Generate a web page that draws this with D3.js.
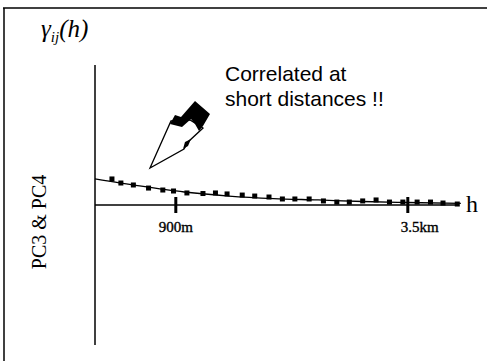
<!DOCTYPE html>
<html>
<head>
<meta charset="utf-8">
<script src="https://cdn.jsdelivr.net/npm/d3@7"></script>
<style>
  body { margin: 0; background: #fff; }
  svg { display: block; }
  .tick text { font-family: "Liberation Serif", "DejaVu Serif", serif; font-size: 15px; fill: #000; stroke: #000; stroke-width: 0.35px; }
</style>
</head>
<body>
<div id="chart"></div>
<script>
// cross-variogram PC3 & PC4, lag distance in metres
var lagPoints = [190, 290, 430, 600, 760, 880, 1030, 1210, 1350, 1480, 1650, 1790, 1950,
                 2100, 2240, 2400, 2560, 2710, 2850, 3000, 3150, 3300, 3450, 3610, 3760, 3900, 4060];
var gammaPoints = [0.186, 0.157, 0.143, 0.121, 0.107, 0.100, 0.086, 0.082, 0.086, 0.079, 0.071, 0.064, 0.057,
                   0.043, 0.043, 0.043, 0.029, 0.021, 0.021, 0.029, 0.036, 0.021, 0.021, 0.021, 0.021, 0.014, 0.007];

// fitted model
var fitLag = [0, 500, 1000, 1500, 2000, 2500, 3000, 3500, 4100];
var fitGamma = [0.186, 0.136, 0.093, 0.064, 0.046, 0.036, 0.025, 0.018, 0.011];

var tickValues = [900, 3500];
var tickLabels = ["900m", "3.5km"];

var width = 487, height = 361;

var svg = d3.select("#chart")
    .append("svg")
    .attr("width", width)
    .attr("height", height);

var x = d3.scaleLinear()
    .domain([0, 2600])
    .range([95, 327]);

var y = d3.scaleLinear()
    .domain([-1, 1])
    .range([345, 65]);

// frame (top and left only)
svg.append("line")
    .attr("x1", 3).attr("x2", 487).attr("y1", 8).attr("y2", 8)
    .attr("stroke", "#000").attr("stroke-width", 1.5);
svg.append("line")
    .attr("x1", 4).attr("x2", 4).attr("y1", 8).attr("y2", 361)
    .attr("stroke", "#000").attr("stroke-width", 1.5);

// vertical axis
svg.append("line")
    .attr("x1", x(0)).attr("x2", x(0))
    .attr("y1", y(1)).attr("y2", y(-1))
    .attr("stroke", "#000").attr("stroke-width", 1.5);

// horizontal axis
var xAxis = d3.axisBottom(x)
    .tickValues(tickValues)
    .tickFormat(function(d, i) { return tickLabels[i]; })
    .tickSize(8)
    .tickPadding(8);

var gx = svg.append("g")
    .attr("transform", "translate(0," + y(0) + ")")
    .call(xAxis);

gx.select(".domain").remove();
gx.append("line")
    .attr("x1", x(0)).attr("x2", x(4080))
    .attr("stroke", "#000").attr("stroke-width", 1.3);
gx.selectAll(".tick line")
    .attr("y1", -8)
    .attr("stroke-width", 3);
gx.selectAll(".tick text")
    .attr("dx", function(d, i) { return i === 1 ? 12 : 0; });

// fitted curve
var fit = fitLag.map(function(d, i) { return [d, fitGamma[i]]; });
var line = d3.line()
    .x(function(d) { return x(d[0]); })
    .y(function(d) { return y(d[1]); })
    .curve(d3.curveMonotoneX);

svg.append("path")
    .datum(fit)
    .attr("d", line)
    .attr("fill", "none")
    .attr("stroke", "#000")
    .attr("stroke-width", 1.3);

// experimental points
svg.selectAll(".pt")
    .data(lagPoints)
    .enter().append("rect")
    .attr("class", "pt")
    .attr("x", function(d) { return x(d) - 2.5; })
    .attr("y", function(d, i) { return y(gammaPoints[i]) - 2.5; })
    .attr("width", 5)
    .attr("height", 5)
    .attr("fill", "#000");

// labels
var serif = "'Liberation Serif', 'DejaVu Serif', serif";

var gl = svg.append("text")
    .attr("x", 41).attr("y", 37)
    .style("font-family", serif)
    .style("font-size", "25px")
    .style("font-style", "italic");
gl.append("tspan").text("\u03b3");
gl.append("tspan").attr("dy", 5).style("font-size", "15px").text("ij");
gl.append("tspan").attr("dy", -5).text("(h)");

svg.append("text")
    .attr("transform", "translate(46,222) rotate(-90)")
    .attr("text-anchor", "middle")
    .style("font-family", serif)
    .style("font-size", "20px")
    .text("PC3 & PC4");

svg.append("text")
    .attr("x", 466).attr("y", 212)
    .style("font-family", serif)
    .style("font-size", "24px")
    .text("h");

var note = svg.append("text")
    .style("font-family", "'Liberation Sans', Arial, sans-serif")
    .style("font-size", "21px");
note.append("tspan").attr("x", 225).attr("y", 81).text("Correlated at");
note.append("tspan").attr("x", 225).attr("y", 106).text("short distances !!");

// pencil-shaped arrow pointing at the short lags
svg.append("path")
    .attr("d", "M150,168 L171,121 L190,120 L203,128 L188,142 L184,149 Z")
    .attr("fill", "#fff")
    .attr("stroke", "#000")
    .attr("stroke-width", 1.3);
svg.append("path")
    .attr("d", "M170,124 L175,115 L181,117 L195,101 L210,114 L203,126 L199,131 L195,124 L191,119 L182,127 Z")
    .attr("fill", "#000");
svg.append("path")
    .attr("d", "M183,149 L185,142 L191,139 L188,146 Z")
    .attr("fill", "#000");
</script>
</body>
</html>
